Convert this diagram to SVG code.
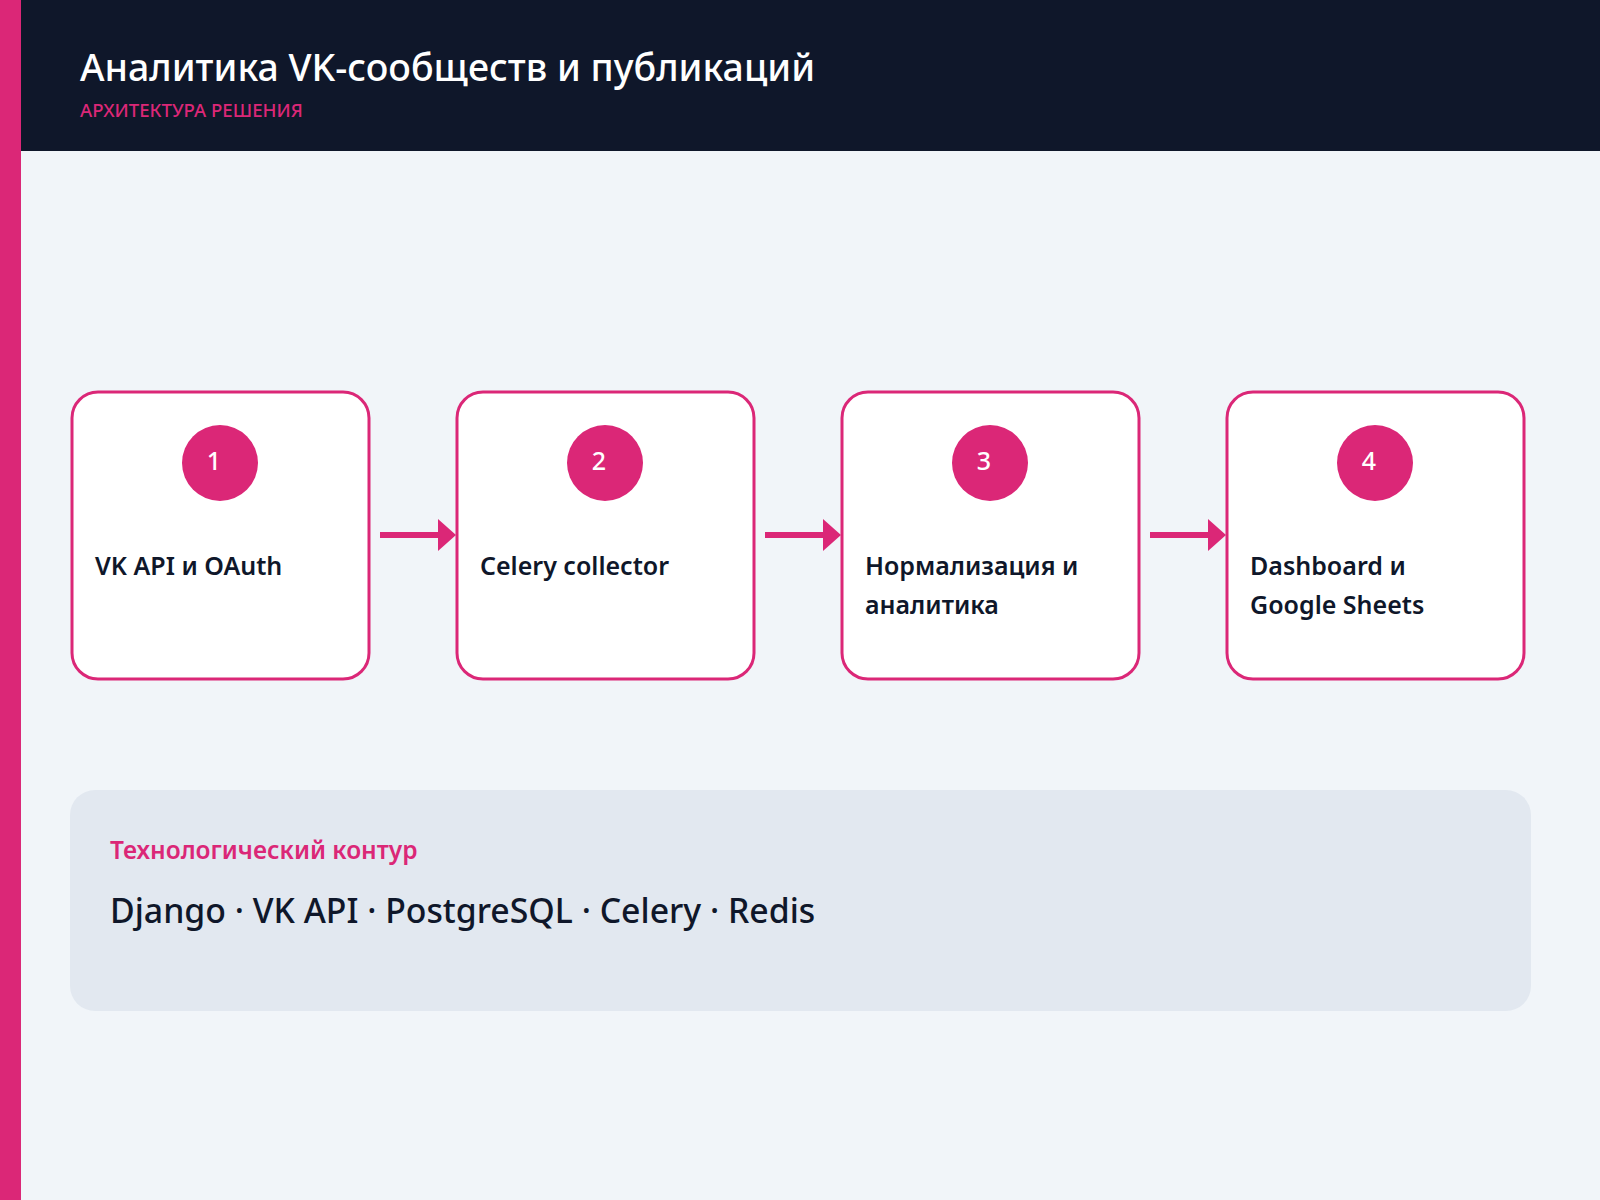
<svg xmlns="http://www.w3.org/2000/svg" width="1600" height="1200" viewBox="0 0 1600 1200">
  <style>
    text { font-family: "Noto Sans", "Open Sans", "DejaVu Sans", sans-serif; }
    .title { fill: #FFFFFF; font-size: 37.5px; font-weight: 500; }
    .subtitle { fill: #DB2777; font-size: 18.6px; font-weight: 500; }
    .box { fill: #FFFFFF; stroke: #DB2777; stroke-width: 3; }
    .badge { fill: #DB2777; }
    .num { fill: #FFFFFF; font-size: 25px; font-weight: 500; text-anchor: middle; }
    .label { fill: #0F172A; font-size: 25px; font-weight: 600; }
    .conn { stroke: #DB2777; stroke-width: 6; fill: none; }
    .head { fill: #DB2777; }
    .ptitle { fill: #DB2777; font-size: 24.5px; font-weight: 600; }
    .ptext { fill: #0F172A; font-size: 33.8px; font-weight: 500; }
  </style>
  <rect x="0" y="0" width="1600" height="1200" fill="#F1F5F9"/>
  <rect x="0" y="0" width="1600" height="151" fill="#0F172A"/>
  <rect x="0" y="0" width="21" height="1200" fill="#DB2777"/>
  <g id="header">
    <text class="title" x="80" y="81">Аналитика VK-сообществ и публикаций</text>
    <text class="subtitle" x="80" y="117">АРХИТЕКТУРА РЕШЕНИЯ</text>
  </g>
  <g id="connectors">
    <line class="conn" x1="380" y1="535" x2="440" y2="535"/>
    <polygon class="head" points="438,519 456,535 438,551"/>
    <line class="conn" x1="765" y1="535" x2="825" y2="535"/>
    <polygon class="head" points="823,519 841,535 823,551"/>
    <line class="conn" x1="1150" y1="535" x2="1210" y2="535"/>
    <polygon class="head" points="1208,519 1226,535 1208,551"/>
  </g>
  <g id="node1">
    <rect class="box" x="72" y="392" width="297" height="287" rx="26"/>
    <circle class="badge" cx="220" cy="463" r="38"/>
    <text class="num" x="214" y="470">1</text>
    <text class="label" x="95" y="575">VK API и OAuth</text>
  </g>
  <g id="node2">
    <rect class="box" x="457" y="392" width="297" height="287" rx="26"/>
    <circle class="badge" cx="605" cy="463" r="38"/>
    <text class="num" x="599" y="470">2</text>
    <text class="label" x="480" y="575">Celery collector</text>
  </g>
  <g id="node3">
    <rect class="box" x="842" y="392" width="297" height="287" rx="26"/>
    <circle class="badge" cx="990" cy="463" r="38"/>
    <text class="num" x="984" y="470">3</text>
    <text class="label" x="865" y="575">Нормализация и</text>
    <text class="label" x="865" y="614">аналитика</text>
  </g>
  <g id="node4">
    <rect class="box" x="1227" y="392" width="297" height="287" rx="26"/>
    <circle class="badge" cx="1375" cy="463" r="38"/>
    <text class="num" x="1369" y="470">4</text>
    <text class="label" x="1250" y="575">Dashboard и</text>
    <text class="label" x="1250" y="614">Google Sheets</text>
  </g>
  <g id="tech-panel">
    <rect x="70" y="790" width="1461" height="221" rx="25" fill="#E2E8F0"/>
    <text class="ptitle" x="110" y="859">Технологический контур</text>
    <text class="ptext" x="110" y="923">Django · VK API · PostgreSQL · Celery · Redis</text>
  </g>
</svg>
